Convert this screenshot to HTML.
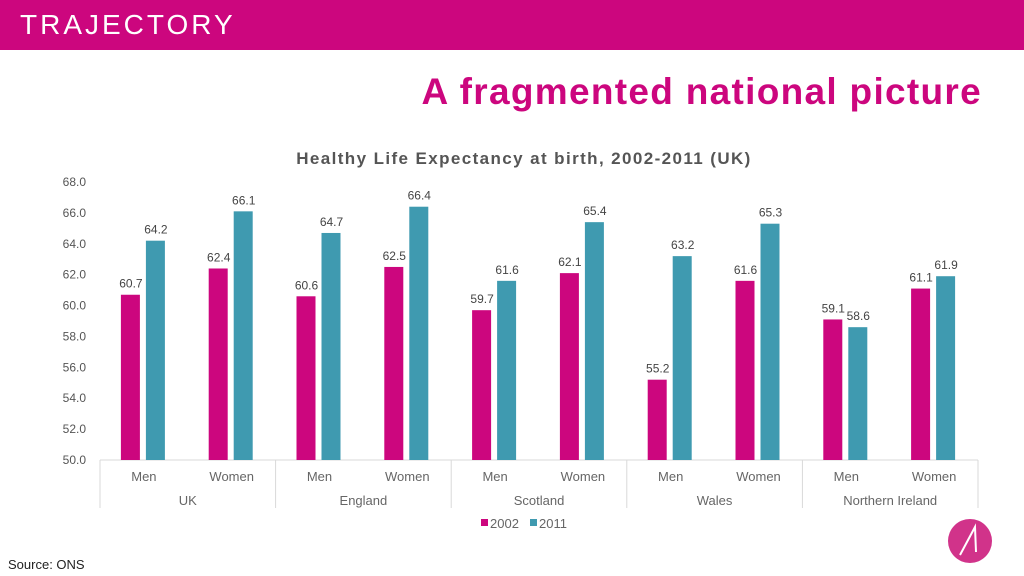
<!DOCTYPE html>
<html><head><meta charset="utf-8"><style>
body{margin:0;width:1024px;height:576px;overflow:hidden;background:#fff;font-family:"Liberation Sans",sans-serif;position:relative}
.hdr{position:absolute;left:0;top:0;width:1024px;height:50px;background:#cc067e}
.logo{position:absolute;left:20px;top:9px;color:#fff;font-size:28px;letter-spacing:3px;font-weight:300}
.title{position:absolute;right:42px;top:71px;color:#cc067e;font-size:37px;font-weight:bold;letter-spacing:1.3px}
.src{position:absolute;left:8px;top:557px;font-size:13px;color:#222}
</style></head><body>
<div class="hdr"><div class="logo">TRAJECTORY</div></div>
<div class="title">A fragmented national picture</div>
<div class="src">Source: ONS</div>
<svg id="c" width="1024" height="576" style="position:absolute;left:0;top:0"></svg>
<script>
const groups=["UK","England","Scotland","Wales","Northern Ireland"];
const cats=["Men","Women"];
const v2002=[60.7,62.4,60.6,62.5,59.7,62.1,55.2,61.6,59.1,61.1];
const v2011=[64.2,66.1,64.7,66.4,61.6,65.4,63.2,65.3,58.6,61.9];
const yTicks=[50,52,54,56,58,60,62,64,66,68];
const svg=document.getElementById('c');const NS='http://www.w3.org/2000/svg';
const X0=100,X1=978,Y0=460,Y1=182,YMIN=50,YMAX=68;
const y=v=>Y0-(v-YMIN)/(YMAX-YMIN)*(Y0-Y1);
const cw=(X1-X0)/v2002.length;
function el(t,a,txt){const e=document.createElementNS(NS,t);for(const k in a)e.setAttribute(k,a[k]);if(txt!=null)e.textContent=txt;svg.appendChild(e);return e;}
const ct=el('text',{x:524,y:164,'text-anchor':'middle','font-size':17,'font-weight':'bold',fill:'#555','letter-spacing':'1.4'},'Healthy Life Expectancy at birth, 2002-2011 (UK)');


yTicks.forEach(t=>{const e=el('text',{x:86,y:y(t)+4,'text-anchor':'end','font-size':12,fill:'#555'},t.toFixed(1));

});
const ax=el('line',{x1:X0,x2:X1,y1:Y0,y2:Y0,stroke:'#d9d9d9'});


for(let g=0;g<=groups.length;g++){const x=X0+g*2*cw;const l=el('line',{x1:x,x2:x,y1:Y0,y2:508,stroke:'#d9d9d9'});

}
v2002.forEach((v,i)=>{const cx=X0+cw*(i+0.5);
const b1=el('rect',{x:cx-23,y:y(v),width:19,height:Y0-y(v),fill:'#cc067e'});


const w=v2011[i];
const b2=el('rect',{x:cx+2,y:y(w),width:19,height:Y0-y(w),fill:'#3f9ab0'});


const t1=el('text',{x:cx-13,y:y(v)-7,'text-anchor':'middle','font-size':12,fill:'#444'},v.toFixed(1));


const t2=el('text',{x:cx+12,y:y(w)-7,'text-anchor':'middle','font-size':12,fill:'#444'},w.toFixed(1));


const cl=el('text',{x:cx,y:481,'text-anchor':'middle','font-size':13,fill:'#666'},cats[i%2]);

});
groups.forEach((g,i)=>{const e=el('text',{x:X0+cw*(2*i+1),y:505,'text-anchor':'middle','font-size':13,fill:'#666'},g);

});
const l1=el('rect',{x:481,y:519,width:7,height:7,fill:'#cc067e'});


const l1t=el('text',{x:490,y:528,'font-size':13,fill:'#666'},'2002');


const l2=el('rect',{x:530,y:519,width:7,height:7,fill:'#3f9ab0'});


const l2t=el('text',{x:539,y:528,'font-size':13,fill:'#666'},'2011');


const c=el('circle',{cx:970,cy:541,r:22,fill:'#d1338a'});


el('path',{d:'M960 555 L975 527 L976 552',stroke:'#fff','stroke-width':2,fill:'none'});
</script>
</body></html>
